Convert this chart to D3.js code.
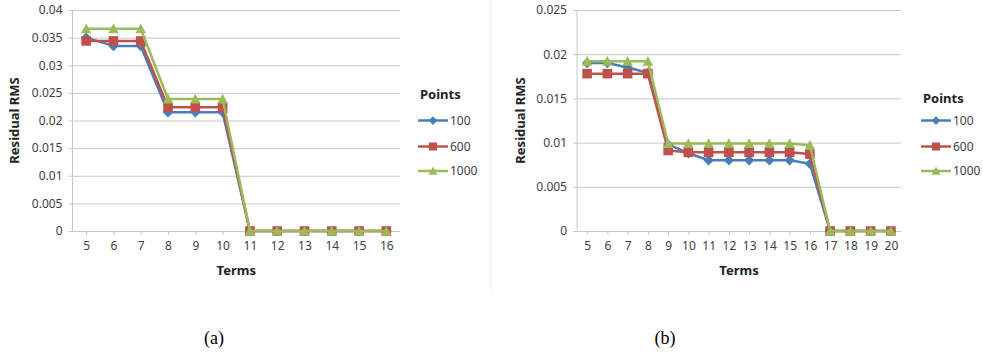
<!DOCTYPE html>
<html>
<head>
<meta charset="utf-8">
<script src="https://cdn.jsdelivr.net/npm/d3@7"></script>
<style>
  html, body { margin: 0; padding: 0; background: #fff; }
  svg { display: block; }
  text { font-family: "Noto Sans", "Open Sans", sans-serif; }
</style>
</head>
<body>
<svg id="chart" width="983" height="356"></svg>
<script>
// Residual RMS against number of terms, for three point counts
const seriesNames = ["100", "600", "1000"];
const seriesColors = ["#4a7ebb", "#c0504d", "#9bbb59"];

// panel (a)
const termsA = [5, 6, 7, 8, 9, 10, 11, 12, 13, 14, 15, 16];
const rmsA100  = [0.0350, 0.0335, 0.0335, 0.0215, 0.0215, 0.0215, 0, 0, 0, 0, 0, 0];
const rmsA600  = [0.0344, 0.0344, 0.0344, 0.0224, 0.0224, 0.0224, 0, 0, 0, 0, 0, 0];
const rmsA1000 = [0.0366, 0.0366, 0.0366, 0.0239, 0.0239, 0.0239, 0, 0, 0, 0, 0, 0];
const ticksA = [0, 0.005, 0.01, 0.015, 0.02, 0.025, 0.03, 0.035, 0.04];

// panel (b)
const termsB = [5, 6, 7, 8, 9, 10, 11, 12, 13, 14, 15, 16, 17, 18, 19, 20];
const rmsB100  = [0.0190, 0.0190, 0.0185, 0.0179, 0.0098, 0.0088, 0.0080, 0.0080, 0.0080, 0.0080, 0.0080, 0.0076, 0, 0, 0, 0];
const rmsB600  = [0.0178, 0.0178, 0.0178, 0.0178, 0.0091, 0.0089, 0.0089, 0.0089, 0.0089, 0.0089, 0.0089, 0.0087, 0, 0, 0, 0];
const rmsB1000 = [0.0192, 0.0192, 0.0192, 0.0192, 0.0099, 0.0099, 0.0099, 0.0099, 0.0099, 0.0099, 0.0099, 0.0097, 0, 0, 0, 0];
const ticksB = [0, 0.005, 0.01, 0.015, 0.02, 0.025];

// marker shapes drawn through d3.symbol
const diamond = { draw(ctx, size) { const r = Math.sqrt(size) / 2 * 1.25;
  ctx.moveTo(0, -r); ctx.lineTo(r, 0); ctx.lineTo(0, r); ctx.lineTo(-r, 0); ctx.closePath(); } };
const square = { draw(ctx, size) { const r = Math.sqrt(size) / 2;
  ctx.rect(-r, -r, 2 * r, 2 * r); } };
const triangle = { draw(ctx, size) { const r = Math.sqrt(size) / 2 * 1.1;
  ctx.moveTo(0, -r); ctx.lineTo(r, r * 0.85); ctx.lineTo(-r, r * 0.85); ctx.closePath(); } };
const markers = [diamond, square, triangle];
const markerSizes = [70, 92, 92];

const svg = d3.select("#chart");

// faint frame edge between the panels
svg.append("line").attr("x1", 491.5).attr("x2", 491.5).attr("y1", 0).attr("y2", 290)
  .attr("stroke", "#f0f0f0").attr("stroke-width", 1);

function panel(cfg) {
  const g = svg.append("g");
  const x = d3.scalePoint().domain(cfg.terms).range([cfg.left, cfg.right]).padding(0.5);
  const y = d3.scaleLinear().domain([0, cfg.yMax]).range([cfg.bottom, cfg.top]);
  const fmt = d => String(+d.toFixed(4));

  // horizontal gridlines with outward ticks and labels
  const yAxis = d3.axisLeft(y).tickValues(cfg.yTicks).tickFormat(fmt)
    .tickSize(-(cfg.right - cfg.left) - 4).tickPadding(6);
  const gy = g.append("g").attr("transform", `translate(${cfg.left - 4},0)`).call(yAxis);
  gy.select(".domain").remove();
  gy.selectAll(".tick line").attr("stroke", "#c8c8c8").attr("stroke-width", 1)
    .attr("x1", 0).attr("x2", cfg.right - cfg.left + 4);
  gy.selectAll(".tick text").attr("fill", "#404040").style("font-size", "12px").attr("x", -6);

  // vertical axis line
  g.append("line").attr("x1", cfg.left).attr("x2", cfg.left)
    .attr("y1", cfg.top).attr("y2", cfg.bottom)
    .attr("stroke", "#c8c8c8").attr("stroke-width", 1);

  // category axis
  const xAxis = d3.axisBottom(x).tickSize(4).tickPadding(6);
  const gx = g.append("g").attr("transform", `translate(0,${cfg.bottom})`).call(xAxis);
  gx.select(".domain").attr("stroke", "#c8c8c8").attr("d", `M${cfg.left},0.5H${cfg.right}`);
  gx.selectAll(".tick line").attr("stroke", "#c8c8c8");
  gx.selectAll(".tick text").attr("fill", "#404040").style("font-size", "12px");

  // series lines then markers
  const line = d3.line().x((d, i) => x(cfg.terms[i])).y(d => y(d));
  cfg.series.forEach((vals, s) => {
    g.append("path").datum(vals).attr("d", line).attr("fill", "none")
      .attr("stroke", seriesColors[s]).attr("stroke-width", 2.5).attr("stroke-linejoin", "round");
    g.selectAll(null).data(vals).enter().append("path")
      .attr("transform", (d, i) => `translate(${x(cfg.terms[i])},${y(d)})`)
      .attr("d", d3.symbol(markers[s], markerSizes[s])())
      .attr("fill", seriesColors[s]);
  });

  // axis titles
  g.append("text").attr("transform", `translate(${cfg.yTitleX},${(cfg.top + cfg.bottom) / 2}) rotate(-90)`)
    .attr("text-anchor", "middle").attr("dy", "0.35em")
    .style("font-size", "13px").style("font-weight", "bold").attr("fill", "#222")
    .text("Residual RMS");
  g.append("text").attr("x", (cfg.left + cfg.right) / 2).attr("y", 270)
    .attr("text-anchor", "middle").attr("dy", "0.35em")
    .style("font-size", "13px").style("font-weight", "bold").attr("fill", "#222")
    .text("Terms");

  // legend
  const lg = g.append("g");
  lg.append("text").attr("x", cfg.legendX + 2).attr("y", cfg.legendTitleY).attr("dy", "0.35em")
    .style("font-size", "13px").style("font-weight", "bold").attr("fill", "#222").text("Points");
  seriesNames.forEach((name, s) => {
    const ly = cfg.legendY[s];
    lg.append("line").attr("x1", cfg.legendX).attr("x2", cfg.legendX + 30)
      .attr("y1", ly).attr("y2", ly).attr("stroke", seriesColors[s]).attr("stroke-width", 2.5);
    lg.append("path").attr("transform", `translate(${cfg.legendX + 15},${ly})`)
      .attr("d", d3.symbol(markers[s], markerSizes[s] * 0.7)()).attr("fill", seriesColors[s]);
    lg.append("text").attr("x", cfg.legendX + 32).attr("y", ly).attr("dy", "0.35em")
      .style("font-size", "12px").attr("fill", "#404040").text(name);
  });

  // caption
  svg.append("text").attr("x", cfg.captionX).attr("y", 344).attr("text-anchor", "middle")
    .style("font-family", "'Liberation Serif', 'DejaVu Serif', serif").style("font-size", "18px")
    .attr("fill", "#000").text(cfg.caption);
}

panel({
  terms: termsA, series: [rmsA100, rmsA600, rmsA1000], yMax: 0.04, yTicks: ticksA,
  left: 72.5, right: 400, top: 10, bottom: 231,
  yTitleX: 14, legendX: 418, legendTitleY: 94, legendY: [120.5, 146.5, 171],
  captionX: 214, caption: "(a)"
});

panel({
  terms: termsB, series: [rmsB100, rmsB600, rmsB1000], yMax: 0.025, yTicks: ticksB,
  left: 577, right: 901, top: 10, bottom: 231,
  yTitleX: 520, legendX: 921, legendTitleY: 98, legendY: [120.5, 146.5, 171],
  captionX: 665, caption: "(b)"
});
</script>
</body>
</html>
